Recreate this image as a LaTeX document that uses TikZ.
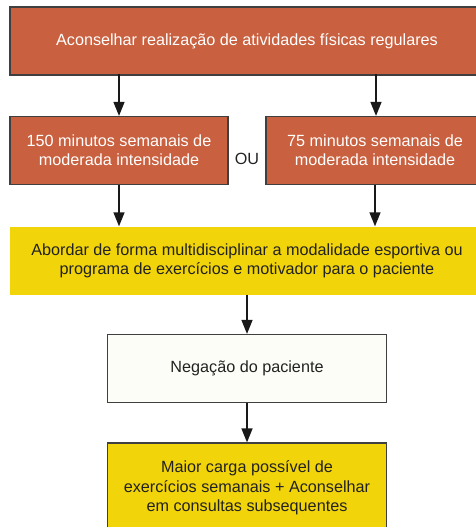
\documentclass[tikz,border=0pt]{standalone}
\usepackage{fontspec}
\setmainfont{Liberation Sans}
\usetikzlibrary{arrows.meta}
\definecolor{redbox}{HTML}{C9603F}
\definecolor{yelbox}{HTML}{F2D40A}
\definecolor{wbox}{HTML}{FDFDF8}
\definecolor{edge}{HTML}{3F3F3F}
\definecolor{txt}{HTML}{222222}
\tikzset{
  boxfont/.style={font=\fontsize{16.2}{19.3}\selectfont},
  redstyle/.style={draw=edge, line width=1.2pt, fill=redbox, text=white, align=center, inner sep=0pt, boxfont},
  yelstyle/.style={fill=yelbox, text=txt, align=center, inner sep=0pt, boxfont},
  yelbord/.style={draw=edge, line width=1.2pt, fill=yelbox, text=txt, align=center, inner sep=0pt, boxfont},
  whitestyle/.style={draw=edge, line width=1.2pt, fill=wbox, text=txt, align=center, inner sep=0pt, boxfont},
  conn/.style={draw=black!90, line width=1.4pt, -{Triangle[length=14pt,width=11pt]}},
}
\begin{document}
\begin{tikzpicture}[x=1pt,y=-1pt]
\useasboundingbox (0,0) rectangle (476,527);
\clip (0,0) rectangle (476,527);
\node[redstyle, minimum width=474pt, minimum height=68pt] (top) at (247,41) {Aconselhar realização de atividades físicas regulares};
\node[redstyle, minimum width=218pt, minimum height=68pt] (left) at (119,150.5) {150 minutos semanais de\\moderada intensidade};
\node[redstyle, minimum width=218pt, minimum height=68pt] (right) at (375,150.5) {75 minutos semanais de\\moderada intensidade};
\node[text=txt, boxfont] (ou) at (247,159) {OU};
\node[yelstyle, minimum width=474pt, minimum height=68pt] (mid) at (247,260.5) {Abordar de forma multidisciplinar a modalidade esportiva ou\\programa de exercícios e motivador para o paciente};
\node[whitestyle, minimum width=279pt, minimum height=68pt] (neg) at (247,368.5) {Negação do paciente};
\node[yelbord, minimum width=279pt, minimum height=90pt] (bot) at (247,488) {Maior carga possível de\\exercícios semanais + Aconselhar\\em consultas subsequentes};
\coordinate (t1) at (119,74);
\coordinate (t2) at (376,74);
\draw[conn] (t1) -- (t1 |- left.north);
\draw[conn] (t2) -- (t2 |- right.north);
\draw[conn] (left.south) -- (left.south |- mid.north);
\draw[conn] (right.south) -- (right.south |- mid.north);
\draw[conn] (mid.south -| neg.north) -- (neg.north);
\draw[conn] (neg.south) -- (bot.north);
\end{tikzpicture}
\end{document}
